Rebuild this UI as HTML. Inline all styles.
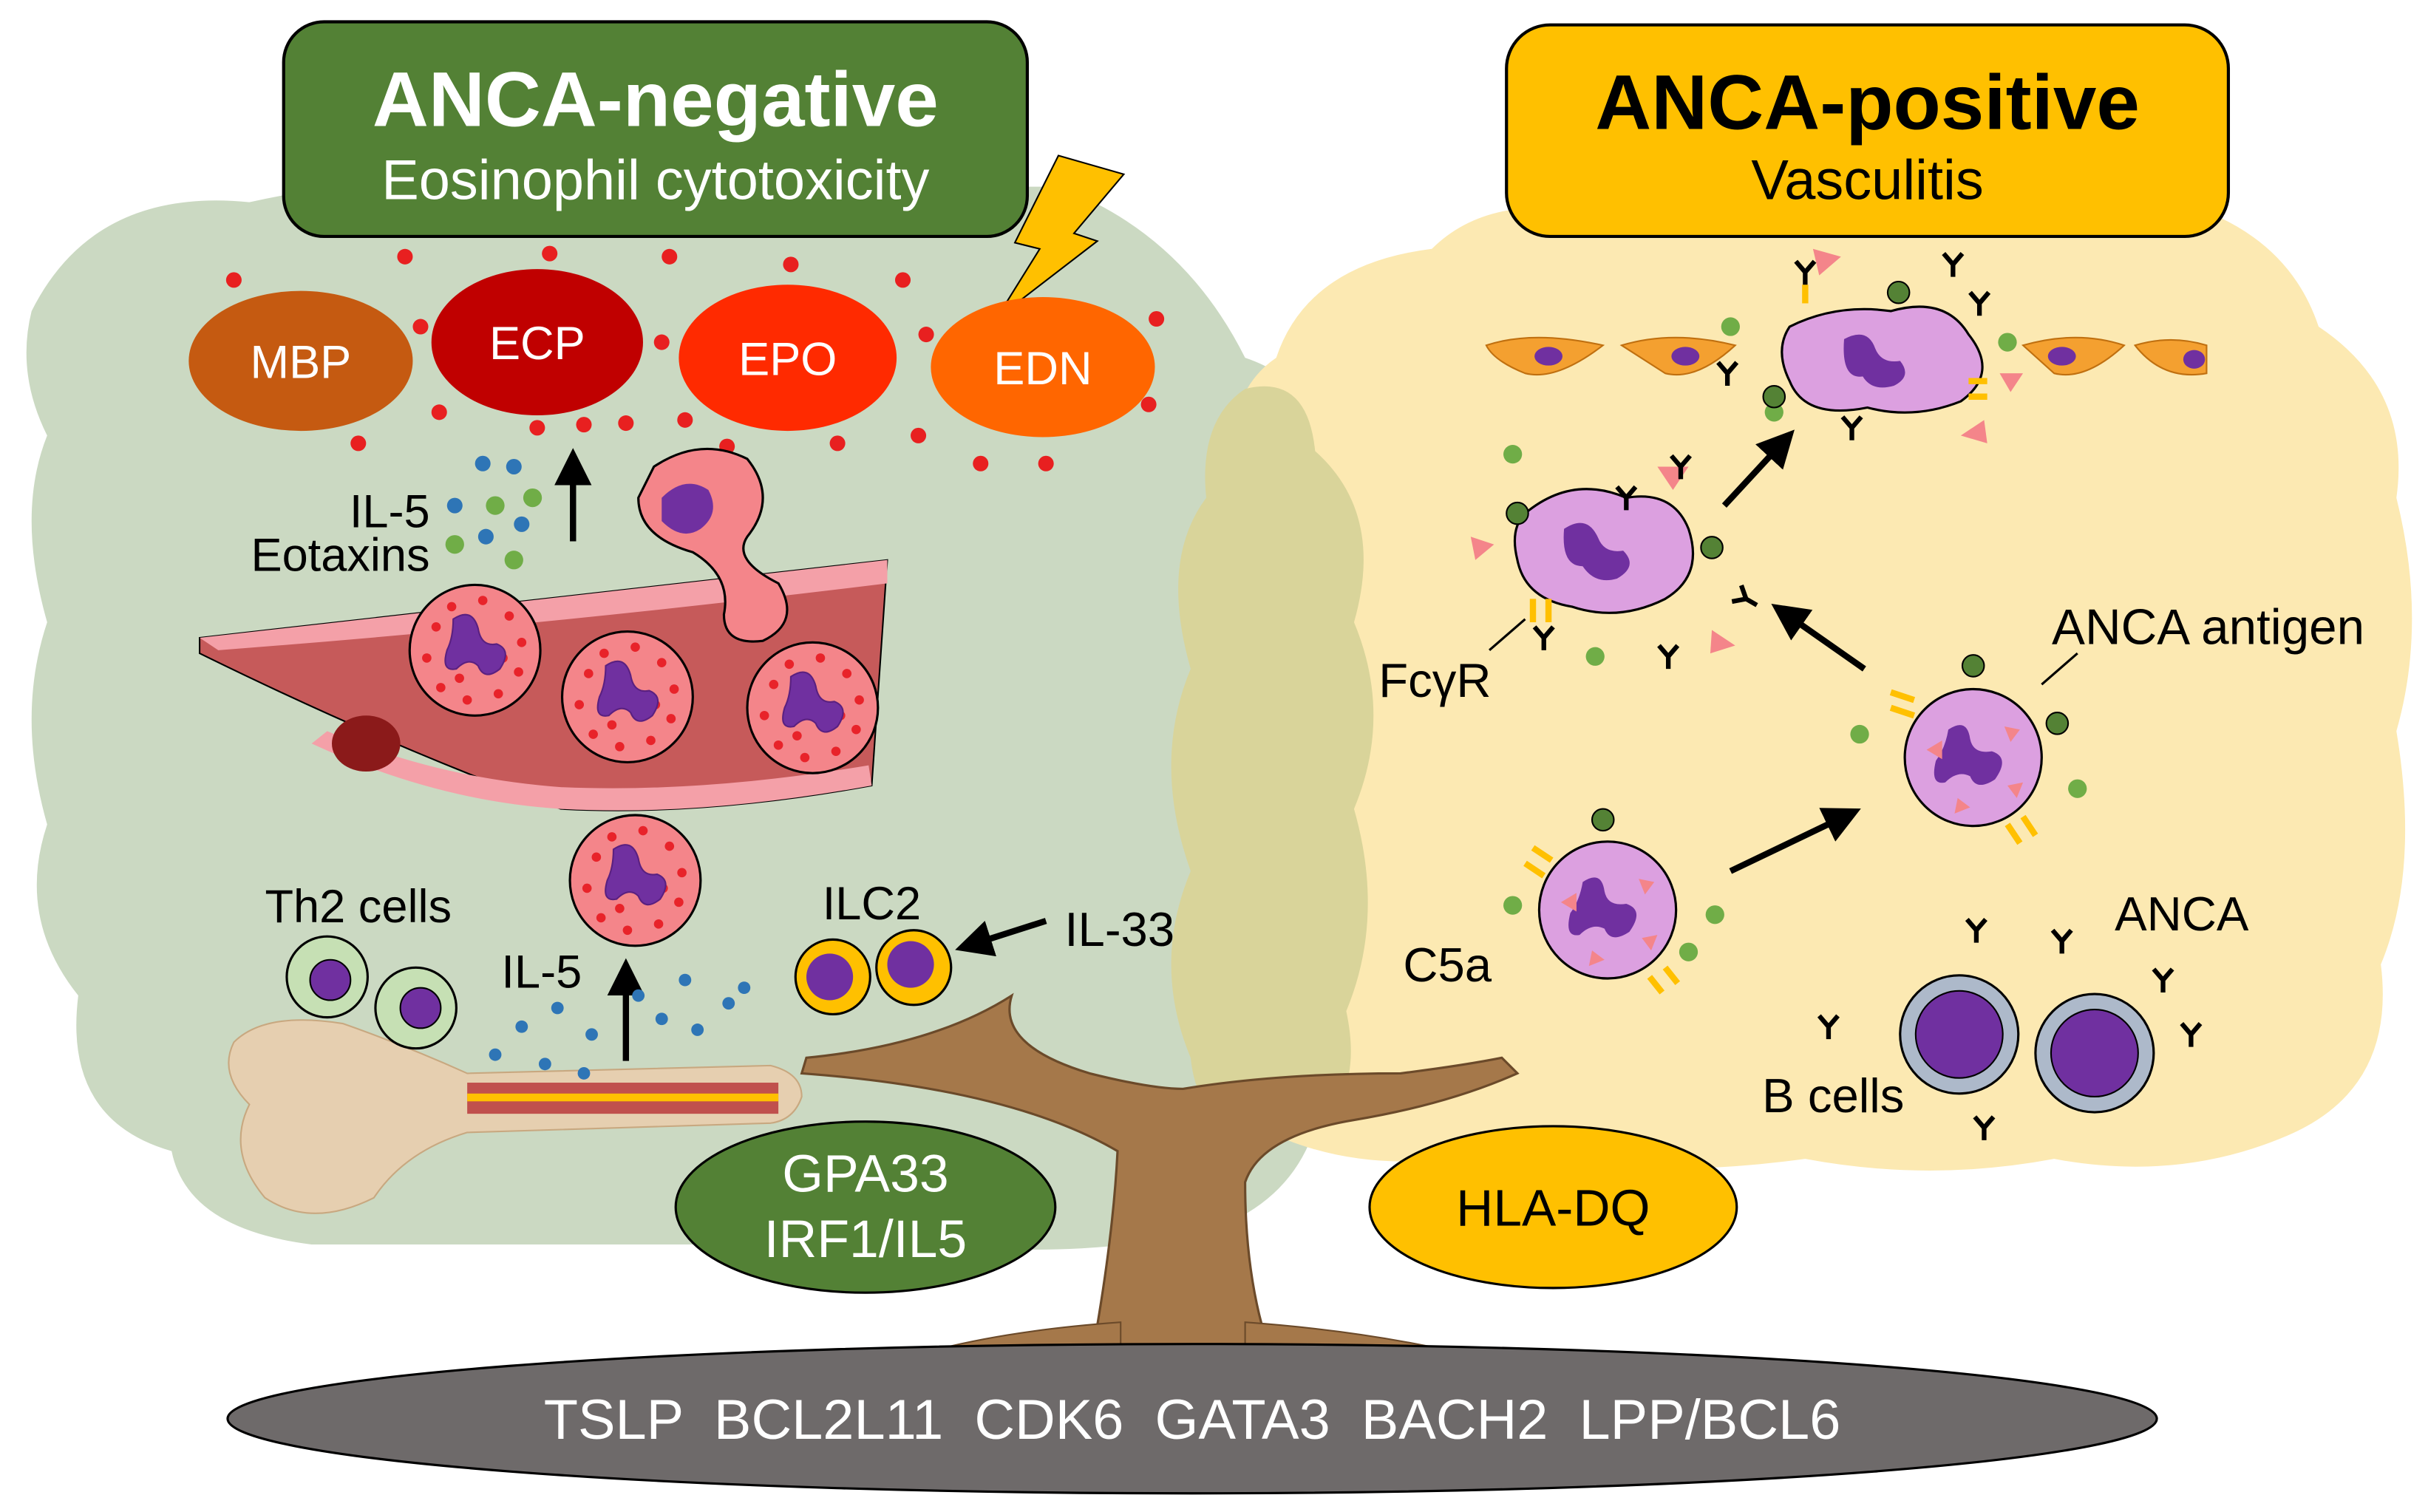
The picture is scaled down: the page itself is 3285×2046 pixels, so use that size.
<!DOCTYPE html>
<html><head><meta charset="utf-8"><style>
html,body{margin:0;padding:0;background:#fff}
svg{display:block}
text{font-family:"Liberation Sans",Arial,sans-serif}
</style></head><body>
<svg width="3285" height="2046" viewBox="0 0 1560 972" xmlns="http://www.w3.org/2000/svg">
<defs>
<marker id="ah" markerWidth="6" markerHeight="6" refX="3" refY="3" orient="auto" markerUnits="strokeWidth"><path d="M0,0 L6,3 L0,6 Z" fill="#000"/></marker>
<g id="eo"><circle r="42" fill="#f4858a" stroke="#000" stroke-width="1.5"/>
<g fill="#e8232a"><circle cx="-25" cy="-15" r="3"/><circle cx="-15" cy="-28" r="3"/><circle cx="5" cy="-32" r="3"/><circle cx="22" cy="-22" r="3"/><circle cx="30" cy="-5" r="3"/><circle cx="28" cy="14" r="3"/><circle cx="15" cy="28" r="3"/><circle cx="-5" cy="32" r="3"/><circle cx="-22" cy="24" r="3"/><circle cx="-31" cy="5" r="3"/><circle cx="18" cy="5" r="3"/><circle cx="-10" cy="18" r="3"/></g>
<path d="M-14,-20 q12,-8 16,6 q2,12 12,10 q10,4 2,16 q-10,8 -14,-2 q-6,-6 -14,2 q-10,2 -6,-12 q4,-8 4,-20z" fill="#7030a0" stroke="#5a2080"/></g>
<g id="ne"><circle r="44" fill="#dca0e0" stroke="#000" stroke-width="1.5"/>
<path d="M-16,-18 q12,-8 14,6 q2,10 14,8 q12,4 2,18 q-12,8 -16,-2 q-8,-4 -16,4 q-10,2 -6,-14 q6,-8 8,-20z" fill="#7030a0"/>
<g fill="#f4858a"><path d="M-30,-5 l10,-6 0,12z"/><path d="M20,-20 l10,2 -6,8z"/><path d="M22,18 l10,-2 -4,10z"/><path d="M-10,26 l8,6 -10,4z"/></g></g>
<g id="ab" stroke="#000" stroke-width="3" fill="none"><path d="M0,8 V0 L-6,-7 M0,0 L6,-7"/></g>
</defs>
<rect width="1560" height="972" fill="#fff"/>
<path d="M20,200 Q60,120 160,130 Q250,110 320,120 L680,120 Q760,150 800,230 Q860,250 860,330 Q890,420 860,500 Q880,600 850,660 Q860,760 780,790 Q700,810 600,800 L200,800 Q120,790 110,740 Q40,720 50,640 Q10,590 30,530 Q10,460 30,400 Q10,330 30,280 Q10,240 20,200Z" fill="#cbd9c2"/>
<path d="M820,230 Q840,170 920,160 Q960,120 1040,140 L1400,130 Q1470,150 1490,210 Q1550,250 1540,320 Q1560,400 1540,470 Q1555,560 1530,620 Q1540,700 1470,730 Q1400,760 1320,745 Q1240,760 1160,745 Q1050,760 960,740 Q870,760 800,720 Q760,650 770,580 Q750,500 770,430 Q750,350 790,300 Q790,250 820,230Z" fill="#fce9b2"/>
<path d="M800,250 Q840,240 845,290 Q890,330 870,400 Q895,460 870,520 Q890,590 865,650 Q880,720 820,735 Q770,730 765,680 Q740,620 765,560 Q740,490 765,430 Q745,360 775,320 Q770,270 800,250Z" fill="#d9d49a"/>
<rect x="182" y="14" width="478" height="138" rx="26" fill="#538135" stroke="#000" stroke-width="2"/>
<text x="421" y="81" font-size="50" font-weight="bold" fill="#fff" text-anchor="middle">ANCA-negative</text>
<text x="421" y="128" font-size="36" fill="#fff" text-anchor="middle">Eosinophil cytotoxicity</text>
<rect x="968" y="16" width="464" height="136" rx="28" fill="#ffc000" stroke="#000" stroke-width="2"/>
<text x="1200" y="83" font-size="50" font-weight="bold" fill="#000" text-anchor="middle">ANCA-positive</text>
<text x="1200" y="128" font-size="36" fill="#000" text-anchor="middle">Vasculitis</text>
<path d="M680,100 L722,112 L690,150 L705,155 L640,205 L668,160 L652,156Z" fill="#ffc000" stroke="#000" stroke-width="1"/>
<g fill="#e82020"><circle cx="150" cy="180" r="5"/><circle cx="260" cy="165" r="5"/><circle cx="353" cy="163" r="5"/><circle cx="430" cy="165" r="5"/><circle cx="508" cy="170" r="5"/><circle cx="580" cy="180" r="5"/><circle cx="270" cy="210" r="5"/><circle cx="425" cy="220" r="5"/><circle cx="595" cy="215" r="5"/><circle cx="230" cy="285" r="5"/><circle cx="282" cy="265" r="5"/><circle cx="345" cy="275" r="5"/><circle cx="375" cy="273" r="5"/><circle cx="402" cy="272" r="5"/><circle cx="440" cy="270" r="5"/><circle cx="538" cy="285" r="5"/><circle cx="590" cy="280" r="5"/><circle cx="630" cy="298" r="5"/><circle cx="672" cy="298" r="5"/><circle cx="738" cy="260" r="5"/><circle cx="743" cy="205" r="5"/><circle cx="467" cy="287" r="5"/></g>
<ellipse cx="193" cy="232" rx="72" ry="45" fill="#c55a11"/><text x="193" y="243" font-size="30" fill="#fff" text-anchor="middle">MBP</text>
<ellipse cx="345" cy="220" rx="68" ry="47" fill="#c00000"/><text x="345" y="231" font-size="30" fill="#fff" text-anchor="middle">ECP</text>
<ellipse cx="506" cy="230" rx="70" ry="47" fill="#ff2a00"/><text x="506" y="241" font-size="30" fill="#fff" text-anchor="middle">EPO</text>
<ellipse cx="670" cy="236" rx="72" ry="45" fill="#ff6600"/><text x="670" y="247" font-size="30" fill="#fff" text-anchor="middle">EDN</text>
<g fill="#2e75b6"><circle cx="292" cy="325" r="5"/><circle cx="310" cy="298" r="5"/><circle cx="330" cy="300" r="5"/><circle cx="312" cy="345" r="5"/><circle cx="335" cy="337" r="5"/></g>
<g fill="#70ad47"><circle cx="318" cy="325" r="6"/><circle cx="342" cy="320" r="6"/><circle cx="292" cy="350" r="6"/><circle cx="330" cy="360" r="6"/></g>
<text x="276" y="339" font-size="30" text-anchor="end">IL-5</text>
<text x="276" y="367" font-size="30" text-anchor="end">Eotaxins</text>
<line x1="368" y1="348" x2="368" y2="300" stroke="#000" stroke-width="4" marker-end="url(#ah)"/>
<path d="M128,410 Q350,385 570,360 L560,505 Q450,525 360,520 Q250,480 128,420Z" fill="#c65a5a" stroke="#000" stroke-width="1"/>
<path d="M128,410 Q350,385 570,360 L570,375 Q350,402 140,418Z" fill="#f4a0a8"/>
<path d="M200,478 Q280,515 360,520 Q450,525 560,505 L558,492 Q450,510 360,506 Q280,500 210,470Z" fill="#f4a0a8"/>
<ellipse cx="235" cy="478" rx="22" ry="18" fill="#8b1a1a"/>
<path d="M420,300 Q450,280 480,295 Q500,320 480,345 Q470,360 500,375 Q515,400 490,412 Q465,415 465,395 Q470,370 445,355 Q410,345 410,320Z" fill="#f4858a" stroke="#000" stroke-width="1.5"/>
<path d="M425,320 q15,-15 30,-5 q8,15 -5,25 q-12,8 -25,-5z" fill="#7030a0"/>
<use href="#eo" x="305" y="418"/>
<use href="#eo" x="403" y="448"/>
<use href="#eo" x="522" y="455"/>
<use href="#eo" x="408" y="566"/>
<path d="M700,880 Q715,800 718,740 Q650,700 515,690 L518,680 Q600,672 650,640 Q640,672 700,690 Q740,700 760,700 Q820,690 900,690 Q940,685 965,680 L975,690 Q930,710 870,720 Q810,730 800,760 Q800,830 820,880 Q760,888 700,880Z" fill="#a5784a" stroke="#6b4a2a" stroke-width="1.5"/>
<path d="M720,850 Q650,855 600,868 L720,875Z M800,850 Q870,855 930,868 L800,875Z" fill="#a5784a" stroke="#6b4a2a"/>
<path d="M150,670 Q170,650 220,658 Q260,672 300,690 L495,685 Q515,690 515,705 Q510,720 495,722 L300,728 Q260,740 240,770 Q200,790 170,770 Q145,740 160,710 Q140,690 150,670Z" fill="#e6cfb0" stroke="#c8a880"/>
<rect x="300" y="696" width="200" height="20" fill="#c0504d"/>
<rect x="300" y="703" width="200" height="5" fill="#ffc000"/>
<circle cx="210" cy="628" r="26" fill="#c6e0b4" stroke="#000" stroke-width="1.5"/><circle cx="212" cy="630" r="13" fill="#7030a0" stroke="#000"/>
<circle cx="267" cy="648" r="26" fill="#c6e0b4" stroke="#000" stroke-width="1.5"/><circle cx="270" cy="648" r="13" fill="#7030a0" stroke="#000"/>
<text x="230" y="593" font-size="30" text-anchor="middle">Th2 cells</text>
<circle cx="535" cy="628" r="24" fill="#ffc000" stroke="#000" stroke-width="1.5"/><circle cx="533" cy="628" r="15" fill="#7030a0"/>
<circle cx="587" cy="622" r="24" fill="#ffc000" stroke="#000" stroke-width="1.5"/><circle cx="585" cy="620" r="15" fill="#7030a0"/>
<text x="560" y="591" font-size="30" text-anchor="middle">ILC2</text>
<text x="684" y="608" font-size="31">IL-33</text>
<line x1="672" y1="592" x2="625" y2="607" stroke="#000" stroke-width="4" marker-end="url(#ah)"/>
<text x="322" y="635" font-size="30">IL-5</text>
<line x1="402" y1="682" x2="402" y2="628" stroke="#000" stroke-width="4" marker-end="url(#ah)"/>
<g fill="#2e75b6"><circle cx="318" cy="678" r="4"/><circle cx="335" cy="660" r="4"/><circle cx="350" cy="684" r="4"/><circle cx="358" cy="648" r="4"/><circle cx="380" cy="665" r="4"/><circle cx="425" cy="655" r="4"/><circle cx="440" cy="630" r="4"/><circle cx="448" cy="662" r="4"/><circle cx="468" cy="645" r="4"/><circle cx="478" cy="635" r="4"/><circle cx="375" cy="690" r="4"/><circle cx="410" cy="640" r="4"/></g>
<ellipse cx="556" cy="776" rx="122" ry="55" fill="#538135" stroke="#000" stroke-width="1.5"/>
<text x="556" y="766" font-size="34" fill="#fff" text-anchor="middle">GPA33</text>
<text x="556" y="808" font-size="34" fill="#fff" text-anchor="middle">IRF1/IL5</text>
<ellipse cx="998" cy="776" rx="118" ry="52" fill="#ffc000" stroke="#000" stroke-width="1.5"/>
<text x="998" y="788" font-size="33" text-anchor="middle">HLA-DQ</text>
<ellipse cx="766" cy="912" rx="620" ry="48" fill="#6e6a6a" stroke="#000" stroke-width="1.5"/>
<text x="766" y="925" font-size="36" fill="#fff" text-anchor="middle" xml:space="preserve">TSLP  BCL2L11  CDK6  GATA3  BACH2  LPP/BCL6</text>
<g fill="#f4a030" stroke="#c07010"><path d="M955,222 Q985,212 1030,222 Q1000,245 980,240 Q960,232 955,222Z"/><path d="M1042,222 Q1075,212 1115,222 Q1090,245 1070,240Z"/><path d="M1300,222 Q1335,212 1365,222 Q1340,245 1320,240Z"/><path d="M1372,222 Q1395,215 1418,222 L1418,240 Q1390,245 1372,222Z"/></g>
<g fill="#7030a0"><ellipse cx="995" cy="229" rx="9" ry="6"/><ellipse cx="1083" cy="229" rx="9" ry="6"/><ellipse cx="1325" cy="229" rx="9" ry="6"/><ellipse cx="1410" cy="231" rx="7" ry="6"/></g>
<path d="M1150,210 Q1180,195 1215,200 Q1250,190 1265,215 Q1285,240 1260,258 Q1230,270 1200,262 Q1160,270 1150,245 Q1140,225 1150,210Z" fill="#dca0e0" stroke="#000" stroke-width="1.5"/>
<path d="M1185,218 q15,-8 20,6 q4,10 16,8 q8,10 -4,16 q-14,4 -20,-6 q-14,2 -12,-24z" fill="#7030a0"/>
<path d="M980,330 Q1010,305 1045,320 Q1075,315 1085,340 Q1095,370 1070,385 Q1040,400 1010,390 Q980,385 975,360 Q970,340 980,330Z" fill="#dca0e0" stroke="#000" stroke-width="1.5"/>
<path d="M1005,340 q15,-10 22,6 q4,10 16,8 q10,10 -4,18 q-14,4 -22,-8 q-14,0 -12,-24z" fill="#7030a0"/>
<g fill="#f4858a"><path d="M945,345 l15,5 -12,10z"/><path d="M1100,405 l15,10 -16,5z"/><path d="M1065,300 l20,0 -10,15z"/><path d="M1165,160 l18,5 -14,12z"/><path d="M1260,280 l15,-10 2,15z"/><path d="M1285,240 l15,0 -8,12z"/></g>
<use href="#ne" x="1268" y="487"/>
<use href="#ne" x="1033" y="585"/>
<g fill="#70ad47"><circle cx="972" cy="292" r="6"/><circle cx="1025" cy="422" r="6"/><circle cx="1112" cy="210" r="6"/><circle cx="1140" cy="265" r="6"/><circle cx="1290" cy="220" r="6"/><circle cx="1195" cy="472" r="6"/><circle cx="1335" cy="507" r="6"/><circle cx="1102" cy="588" r="6"/><circle cx="1085" cy="612" r="6"/><circle cx="972" cy="582" r="6"/></g>
<g fill="#548235" stroke="#000"><circle cx="1268" cy="428" r="7"/><circle cx="1322" cy="465" r="7"/><circle cx="1030" cy="527" r="7"/><circle cx="975" cy="330" r="7"/><circle cx="1100" cy="352" r="7"/><circle cx="1220" cy="188" r="7"/><circle cx="1140" cy="255" r="7"/></g>
<g stroke="#ffc000" stroke-width="4"><path d="M985,385 v15 M995,385 v15"/><path d="M1215,455 l15,5 M1215,445 l15,5"/><path d="M1290,530 l8,12 M1300,525 l8,12"/><path d="M1060,628 l8,10 M1070,622 l8,10"/><path d="M985,545 l12,8 M980,555 l12,8"/><path d="M1265,245 l12,0 M1265,255 l12,0"/><path d="M1160,195 l0,-12"/></g>
<use href="#ab" x="1080" y="300"/><use href="#ab" x="992" y="410"/><use href="#ab" x="1072" y="422"/><use href="#ab" x="1122" y="385" transform="rotate(-60 1122 385)"/>
<use href="#ab" x="1160" y="175"/><use href="#ab" x="1255" y="170"/><use href="#ab" x="1272" y="195"/><use href="#ab" x="1110" y="240"/><use href="#ab" x="1190" y="275"/>
<use href="#ab" x="1270" y="598"/><use href="#ab" x="1325" y="605"/><use href="#ab" x="1390" y="630"/><use href="#ab" x="1408" y="665"/><use href="#ab" x="1175" y="660"/><use href="#ab" x="1275" y="725"/><use href="#ab" x="1045" y="320"/>
<circle cx="1259" cy="665" r="38" fill="#adb9ca" stroke="#000" stroke-width="1.5"/><circle cx="1259" cy="665" r="28" fill="#7030a0" stroke="#000"/>
<circle cx="1346" cy="677" r="38" fill="#adb9ca" stroke="#000" stroke-width="1.5"/><circle cx="1346" cy="677" r="28" fill="#7030a0" stroke="#000"/>
<line x1="1112" y1="560" x2="1185" y2="525" stroke="#000" stroke-width="4" marker-end="url(#ah)"/>
<line x1="1198" y1="430" x2="1148" y2="395" stroke="#000" stroke-width="4" marker-end="url(#ah)"/>
<line x1="1108" y1="325" x2="1145" y2="285" stroke="#000" stroke-width="4" marker-end="url(#ah)"/>
<line x1="1312" y1="440" x2="1335" y2="420" stroke="#000" stroke-width="1.5"/>
<line x1="957" y1="418" x2="980" y2="398" stroke="#000" stroke-width="1.5"/>
<text x="1419" y="414" font-size="32" text-anchor="middle">ANCA antigen</text>
<text x="922" y="448" font-size="31" text-anchor="middle">FcγR</text>
<text x="930" y="631" font-size="31" text-anchor="middle">C5a</text>
<text x="1402" y="598" font-size="31" text-anchor="middle">ANCA</text>
<text x="1178" y="715" font-size="31" text-anchor="middle">B cells</text>
</svg>
</body></html>
